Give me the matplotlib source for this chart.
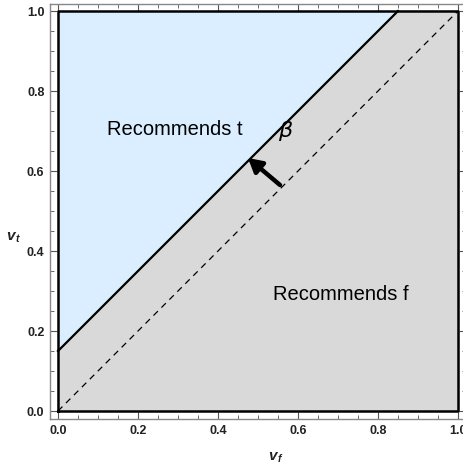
import matplotlib.pyplot as plt
from matplotlib.ticker import MultipleLocator

plt.rcParams['font.family'] = ['Liberation Sans', 'DejaVu Sans']

# boundary line v_t = v_f + beta
beta = 0.15
x_edge = 1 - beta
arrow_tail = (0.555, 0.565)
arrow_head = (0.475, 0.6325)
ticks = [0.0, 0.2, 0.4, 0.6, 0.8, 1.0]
tick_labels = ['0.0', '0.2', '0.4', '0.6', '0.8', '1.0']

fig = plt.figure(figsize=(4.64, 4.66), dpi=100)
ax = fig.add_axes([50/464, 47/466, 416/464, 415/466])

# regions
ax.fill([0, 0, x_edge], [beta, 1, 1], color='#dbeeff', zorder=1)
ax.fill([0, 0, x_edge, 1, 1], [0, beta, 1, 1, 0], color='#d9d9d9', zorder=1)

# square frame, boundary and diagonal
ax.plot([0, 1, 1, 0, 0], [0, 0, 1, 1, 0], color='black', lw=1.8, zorder=3)
ax.plot([0, x_edge], [beta, 1], color='black', lw=1.6, zorder=3)
ax.plot([0, 1], [0, 1], color='black', lw=0.9, ls=(0, (5, 4)), zorder=2)

ax.annotate('', xy=arrow_head, xytext=arrow_tail,
            arrowprops=dict(arrowstyle='-|>,head_length=0.8,head_width=0.45',
                            color='black', lw=3.2, shrinkA=0, shrinkB=0), zorder=4)
ax.text(0.5675, 0.70, 'β', fontsize=16, style='italic', ha='center', va='center',
        family=['DejaVu Sans'])
ax.text(0.2925, 0.705, 'Recommends t', fontsize=14.5, ha='center', va='center')
ax.text(0.7075, 0.29, 'Recommends f', fontsize=14.5, ha='center', va='center')

ax.set_xlim(-0.02, 1.02)
ax.set_ylim(-0.02, 1.0175)
for s in ax.spines.values():
    s.set_color('#888888')
    s.set_linewidth(1.0)
ax.xaxis.set_minor_locator(MultipleLocator(0.05))
ax.yaxis.set_minor_locator(MultipleLocator(0.05))
ax.tick_params(which='both', direction='in', color='#555555', top=True, right=True,
               labelsize=9, labelcolor='#222222', pad=4)
ax.tick_params(which='major', length=5, width=0.8)
ax.tick_params(which='minor', length=3, width=0.6)
ax.set_xticks(ticks)
ax.set_xticklabels(tick_labels, fontweight='bold')
ax.set_yticks(ticks)
ax.set_yticklabels(tick_labels, fontweight='bold')

# axis labels: bold italic v with subscript
fig.text(272/464, 1 - 456/466, 'v', fontsize=11, weight='bold', style='italic',
         ha='center', va='center', color='#222222')
fig.text(279/464, 1 - 459/466, 'f', fontsize=7.5, weight='bold', style='italic',
         ha='center', va='center', color='#222222')
fig.text(10/464, 1 - 236/466, 'v', fontsize=11, weight='bold', style='italic',
         ha='center', va='center', color='#222222')
fig.text(17/464, 1 - 239/466, 't', fontsize=7.5, weight='bold', style='italic',
         ha='center', va='center', color='#222222')

fig.savefig('out.png', dpi=100)
